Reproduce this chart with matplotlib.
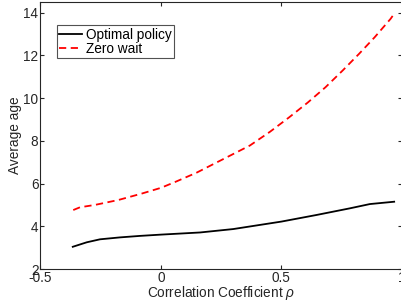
import numpy as np
import matplotlib.pyplot as plt

plt.rcParams['font.family'] = ['Liberation Sans', 'DejaVu Sans']
plt.rcParams['mathtext.fontset'] = 'custom'
plt.rcParams['mathtext.it'] = 'Liberation Sans:italic'

# values
rho_opt = [-0.366, -0.308, -0.253, -0.17, -0.087, 0.0, 0.162, 0.3, 0.5, 0.646, 0.784, 0.867, 0.968]
age_opt = [3.04, 3.25, 3.39, 3.48, 3.55, 3.61, 3.71, 3.87, 4.22, 4.53, 4.84, 5.04, 5.15]

rho_zw = [-0.364, -0.336, -0.274, -0.177, -0.08, 0.0, 0.058, 0.148, 0.369, 0.452, 0.532,
          0.609, 0.683, 0.754, 0.822, 0.887, 0.953, 0.968]
age_zw = [4.76, 4.89, 5.0, 5.23, 5.53, 5.8, 6.07, 6.51, 7.78, 8.42, 9.1,
          9.79, 10.51, 11.29, 12.07, 12.85, 13.71, 13.95]

ax_col = '#262626'
fs = 9.8

fig = plt.figure(figsize=(4.02, 3.03), dpi=100)
ax = fig.add_axes([0.1007, 0.1122, 0.899, 0.8812])

ax.plot(rho_opt, age_opt, color='black', lw=1.3, label='Optimal policy')
ax.plot(rho_zw, age_zw, color='red', lw=1.3, ls=(0, (4, 2.5)), label='Zero wait')

ax.set_xlim(-0.5, 1)
ax.set_ylim(2, 14.5)
ax.set_xticks([-0.5, 0, 0.5, 1])
ax.set_xticklabels(['-0.5', '0', '0.5', '1'])
ax.set_yticks([2, 4, 6, 8, 10, 12, 14])

ax.tick_params(direction='in', top=True, right=True, labelsize=fs,
               colors=ax_col, length=3, width=0.8, pad=1.5)
for s in ax.spines.values():
    s.set_color(ax_col)
    s.set_linewidth(0.8)

ax.set_xlabel(r'Correlation Coefficient $\rho$', fontsize=fs, color=ax_col, labelpad=-1)
ax.set_ylabel('Average age', fontsize=fs, color=ax_col, labelpad=1)

leg = ax.legend(loc='upper left', bbox_to_anchor=(0.045, 0.912), fontsize=fs,
                frameon=True, fancybox=False, edgecolor=ax_col, handlelength=1.7,
                handletextpad=0.3, borderpad=0.15, borderaxespad=0,
                labelspacing=0.0)
leg.get_frame().set_linewidth(0.8)

fig.savefig('out.png', dpi=100)
